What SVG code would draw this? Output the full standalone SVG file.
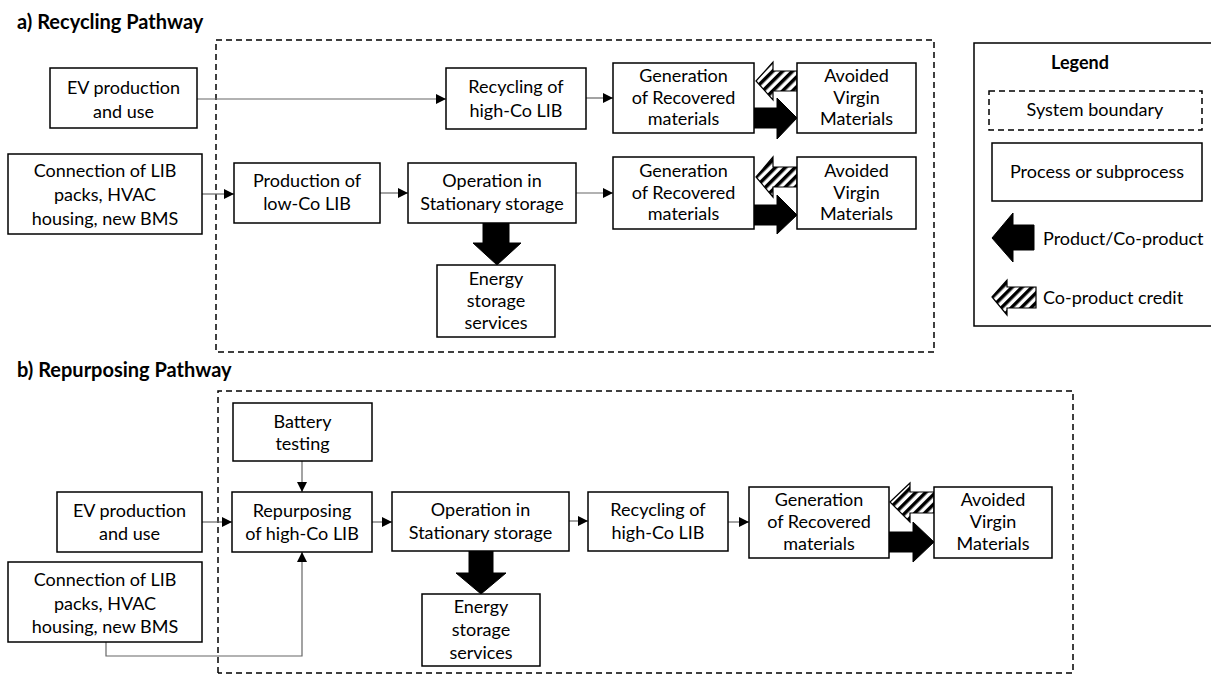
<svg xmlns="http://www.w3.org/2000/svg" width="1211" height="675" viewBox="0 0 1211 675">
<defs>
<style>
.box{fill:#fff;stroke:#000;stroke-width:1.5}
.bound{fill:none;stroke:#000;stroke-width:1.5;stroke-dasharray:6 4}
.t{font-family:Lato,"Liberation Sans",sans-serif;font-size:18px;fill:#000;text-anchor:middle}
.tl{font-family:Lato,"Liberation Sans",sans-serif;font-size:18px;fill:#000}
.h{font-family:Lato,"Liberation Sans",sans-serif;font-size:20px;font-weight:bold;fill:#000}
.c{fill:none;stroke:#666;stroke-width:1.2}
.blk{fill:#000;stroke:#000;stroke-width:1}
.hat{fill:url(#hatch);stroke:#000;stroke-width:1.2}
</style>
<pattern id="hatch" patternUnits="userSpaceOnUse" width="7" height="7" patternTransform="rotate(45)">
<rect x="0" y="0" width="7" height="7" fill="#fff"/>
<rect x="0" y="0" width="3.5" height="7" fill="#000"/>
</pattern>
<marker id="ah" viewBox="0 0 10 10" refX="10" refY="5" markerWidth="10" markerHeight="10" markerUnits="userSpaceOnUse" orient="auto">
<path d="M0,0 L10,5 L0,10 Z" fill="#000"/>
</marker>
</defs>
<rect width="1211" height="675" fill="#fff"/>

<text class="h" x="17" y="29">a) Recycling Pathway</text>
<text class="h" x="17" y="377">b) Repurposing Pathway</text>

<g id="boundary-a"><rect class="bound" x="216" y="40" width="718" height="312"/></g>
<g id="boundary-b"><path class="bound" d="M218,673 L218,391 L1073,391 L1073,673 L218,673"/></g>

<g id="connectors">
<line class="c" x1="197" y1="99" x2="446" y2="99" marker-end="url(#ah)"/>
<line class="c" x1="586" y1="98" x2="613" y2="98" marker-end="url(#ah)"/>
<line class="c" x1="202" y1="194" x2="234" y2="194" marker-end="url(#ah)"/>
<line class="c" x1="380" y1="193" x2="408" y2="193" marker-end="url(#ah)"/>
<line class="c" x1="576" y1="193" x2="613" y2="193" marker-end="url(#ah)"/>
<line class="c" x1="202" y1="522" x2="232" y2="522" marker-end="url(#ah)"/>
<line class="c" x1="302" y1="461" x2="302" y2="492" marker-end="url(#ah)"/>
<path class="c" d="M106,642 L106,656 L302,656 L302,552" marker-end="url(#ah)"/>
<line class="c" x1="372" y1="522" x2="392" y2="522" marker-end="url(#ah)"/>
<line class="c" x1="569" y1="521" x2="588" y2="521" marker-end="url(#ah)"/>
<line class="c" x1="728" y1="522" x2="749" y2="522" marker-end="url(#ah)"/>
<!-- block arrows -->
<polygon class="hat" points="756,81 773,62 773,71 797,71 797,91 773,91 773,100"/>
<polygon class="blk" points="754,108 777,108 777,98 797,118 777,139 777,128 754,128"/>
<polygon class="hat" points="756,177 773,157 773,167 797,167 797,187 773,187 773,197"/>
<polygon class="blk" points="754,205 777,205 777,195 797,215 777,234 777,225 754,225"/>
<polygon class="blk" points="483,223 509,223 509,243 521,243 497,265 473,243 483,243"/>
<polygon class="hat" points="890,502 910,483 910,492 934,492 934,513 910,513 910,522"/>
<polygon class="blk" points="889,532 913,532 913,522 934,542 913,562 913,552 889,552"/>
<polygon class="blk" points="469,551 493,551 493,573 506,573 481,594 456,573 469,573"/>
</g>

<g id="ev-a"><rect class="box" x="50" y="68" width="147" height="60"/>
<text class="t" x="123.5" y="94">EV production</text><text class="t" x="123.5" y="118">and use</text></g>
<g id="recycling-a"><rect class="box" x="446" y="68" width="140" height="61"/>
<text class="t" x="516" y="93">Recycling of</text><text class="t" x="516" y="117">high-Co LIB</text></g>
<g id="gen-a1"><rect class="box" x="613" y="63" width="141" height="70"/>
<text class="t" x="683.5" y="82">Generation</text><text class="t" x="683.5" y="104">of Recovered</text><text class="t" x="683.5" y="125">materials</text></g>
<g id="avoided-a1"><rect class="box" x="797" y="63" width="119" height="70"/>
<text class="t" x="856.5" y="82">Avoided</text><text class="t" x="856.5" y="104">Virgin</text><text class="t" x="856.5" y="125">Materials</text></g>
<g id="conn-a"><rect class="box" x="8" y="154" width="194" height="80"/>
<text class="t" x="105" y="177">Connection of LIB</text><text class="t" x="105" y="201">packs, HVAC</text><text class="t" x="105" y="225">housing, new BMS</text></g>
<g id="prod-a"><rect class="box" x="234" y="163" width="146" height="60"/>
<text class="t" x="307" y="187">Production of</text><text class="t" x="307" y="210">low-Co LIB</text></g>
<g id="op-a"><rect class="box" x="408" y="163" width="168" height="60"/>
<text class="t" x="492" y="187">Operation in</text><text class="t" x="492" y="210">Stationary storage</text></g>
<g id="gen-a2"><rect class="box" x="613" y="157" width="141" height="72"/>
<text class="t" x="683.5" y="177">Generation</text><text class="t" x="683.5" y="199">of Recovered</text><text class="t" x="683.5" y="220">materials</text></g>
<g id="avoided-a2"><rect class="box" x="797" y="157" width="119" height="72"/>
<text class="t" x="856.5" y="177">Avoided</text><text class="t" x="856.5" y="199">Virgin</text><text class="t" x="856.5" y="220">Materials</text></g>
<g id="energy-a"><rect class="box" x="437" y="265" width="118" height="72"/>
<text class="t" x="496" y="285">Energy</text><text class="t" x="496" y="307">storage</text><text class="t" x="496" y="329">services</text></g>

<g id="legend">
<rect class="box" x="974" y="43" width="245" height="283"/>
<text class="h" x="1080" y="69" text-anchor="middle" style="font-size:18px">Legend</text>
<rect class="bound" x="989" y="91" width="213" height="39"/>
<text class="t" x="1095" y="116">System boundary</text>
<rect class="box" x="992" y="143" width="210" height="58"/>
<text class="t" x="1097" y="178">Process or subprocess</text>
<polygon class="blk" points="992,238 1013,213 1013,225 1034,225 1034,250 1013,250 1013,262"/>
<text class="tl" x="1043" y="245">Product/Co-product</text>
<polygon class="hat" points="992,297 1007,280 1007,287 1036,287 1036,308 1007,308 1007,315"/>
<text class="tl" x="1043" y="304">Co-product credit</text>
</g>

<g id="battery-b"><rect class="box" x="233" y="403" width="139" height="58"/>
<text class="t" x="302.5" y="428">Battery</text><text class="t" x="302.5" y="450">testing</text></g>
<g id="ev-b"><rect class="box" x="57" y="492" width="145" height="60"/>
<text class="t" x="129.5" y="517">EV production</text><text class="t" x="129.5" y="540">and use</text></g>
<g id="repurposing-b"><rect class="box" x="232" y="492" width="140" height="60"/>
<text class="t" x="302" y="517">Repurposing</text><text class="t" x="302" y="540">of high-Co LIB</text></g>
<g id="conn-b"><rect class="box" x="8" y="562" width="194" height="80"/>
<text class="t" x="105" y="586">Connection of LIB</text><text class="t" x="105" y="610">packs, HVAC</text><text class="t" x="105" y="633">housing, new BMS</text></g>
<g id="op-b"><rect class="box" x="392" y="492" width="177" height="59"/>
<text class="t" x="480.5" y="516">Operation in</text><text class="t" x="480.5" y="539">Stationary storage</text></g>
<g id="recycling-b"><rect class="box" x="588" y="492" width="140" height="59"/>
<text class="t" x="658" y="516">Recycling of</text><text class="t" x="658" y="539">high-Co LIB</text></g>
<g id="gen-b"><rect class="box" x="749" y="487" width="140" height="71"/>
<text class="t" x="819" y="506">Generation</text><text class="t" x="819" y="528">of Recovered</text><text class="t" x="819" y="550">materials</text></g>
<g id="avoided-b"><rect class="box" x="934" y="487" width="118" height="71"/>
<text class="t" x="993" y="506">Avoided</text><text class="t" x="993" y="528">Virgin</text><text class="t" x="993" y="550">Materials</text></g>
<g id="energy-b"><rect class="box" x="422" y="594" width="118" height="72"/>
<text class="t" x="481" y="613">Energy</text><text class="t" x="481" y="636">storage</text><text class="t" x="481" y="659">services</text></g>
</svg>
